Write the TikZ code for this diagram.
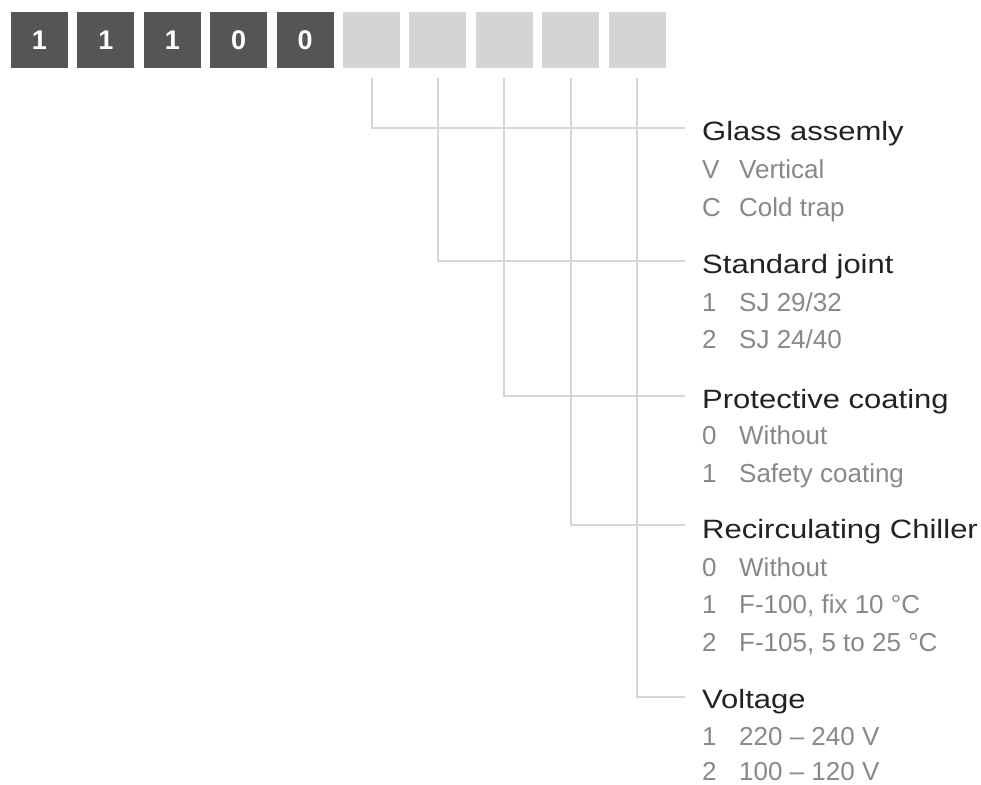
\documentclass[tikz,border=0pt]{standalone}
\usepackage{fontspec}
\setmainfont{Liberation Sans}
\newfontfamily\headfont[FakeStretch=1.17]{Liberation Sans}
\usetikzlibrary{positioning,calc}
\definecolor{fillcolor}{RGB}{85,85,85}
\definecolor{emptycolor}{RGB}{212,212,212}
\definecolor{headcolor}{RGB}{34,34,34}
\definecolor{optioncolor}{RGB}{136,136,136}
\definecolor{leadcolor}{RGB}{214,214,214}

\begin{document}
\begin{tikzpicture}[x=1pt,y=-1pt,
codebox/.style={minimum width=57pt, minimum height=56pt, inner sep=0pt,
  font=\fontsize{27}{30}\selectfont\bfseries, text=white},
heading/.style={anchor=base west, inner sep=0pt, text=headcolor,
  font=\headfont\fontsize{26.5}{30}\selectfont},
option/.style={anchor=base west, inner sep=0pt, text=optioncolor,
  font=\fontsize{26}{30}\selectfont},
leader/.style={draw=leadcolor, line width=2pt}
]
\useasboundingbox (0,0) rectangle (981,784);

% -------- Code boxes --------
\foreach \d [count=\i] in {1,1,1,0,0}
  \node[codebox, fill=fillcolor] (b\i) at ({39.5+66.4*(\i-1)},40) {\d};
\foreach \i in {6,...,10}
  \node[codebox, fill=emptycolor] (b\i) at ({39.5+66.4*(\i-1)},40) {};

% -------- Glass assemly --------
\node[heading] (glass) at (702,140) {Glass assemly};
\node[option] (glassV) at (702,178) {\makebox[37pt][l]{V}Vertical};
\node[option] (glassC) at (702,216) {\makebox[37pt][l]{C}Cold trap};

% -------- Standard joint --------
\node[heading] (joint) at (702,273) {Standard joint};
\node[option] (joint1) at (702,311) {\makebox[37pt][l]{1}SJ 29/32};
\node[option] (joint2) at (702,348) {\makebox[37pt][l]{2}SJ 24/40};

% -------- Protective coating --------
\node[heading] (coat) at (702,408) {Protective coating};
\node[option] (coat0) at (702,444) {\makebox[37pt][l]{0}Without};
\node[option] (coat1) at (702,482) {\makebox[37pt][l]{1}Safety coating};

% -------- Recirculating Chiller --------
\node[heading] (chill) at (702,538) {Recirculating Chiller};
\node[option] (chill0) at (702,576) {\makebox[37pt][l]{0}Without};
\node[option] (chill1) at (702,613) {\makebox[37pt][l]{1}F-100, fix 10 °C};
\node[option] (chill2) at (702,651) {\makebox[37pt][l]{2}F-105, 5 to 25 °C};

% -------- Voltage --------
\node[heading] (volt) at (702,708) {Voltage};
\node[option] (volt1) at (702,745) {\makebox[37pt][l]{1}220 – 240 V};
\node[option] (volt2) at (702,780) {\makebox[37pt][l]{2}100 – 120 V};

% -------- Leader lines --------
\coordinate (glassend) at (685,128);
\coordinate (jointend) at (685,261);
\coordinate (coatend) at (685,396);
\coordinate (chillend) at (685,525);
\coordinate (voltend) at (685,697);
\draw[leader] ([yshift=-10pt]b6.south) |- (glassend);
\draw[leader] ([yshift=-10pt]b7.south) |- (jointend);
\draw[leader] ([yshift=-10pt]b8.south) |- (coatend);
\draw[leader] ([yshift=-10pt]b9.south) |- (chillend);
\draw[leader] ([yshift=-10pt]b10.south) |- (voltend);

\end{tikzpicture}
\end{document}
